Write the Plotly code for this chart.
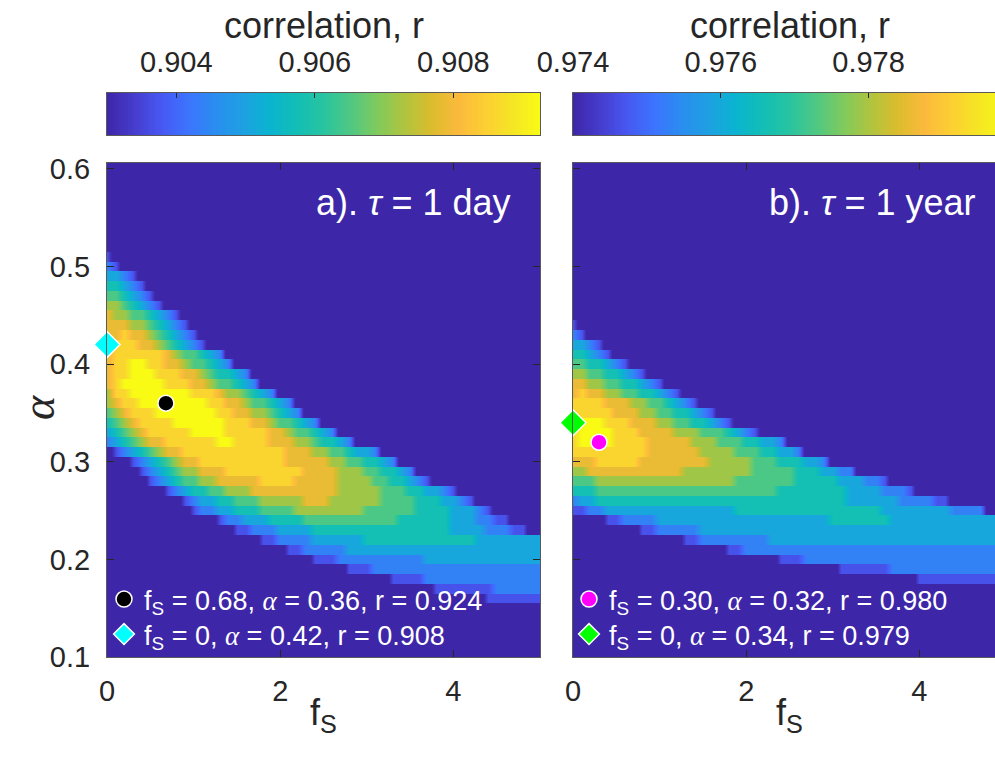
import numpy as np
import plotly.graph_objects as go

# ---------------------------------------------------------------------------
# Grid of the sweep: storage fraction f_S (columns) and exponent alpha (rows)
# ---------------------------------------------------------------------------
FS = np.round(np.arange(0.0, 5.0001, 0.1), 2)
ALPHA = np.round(np.arange(0.10, 0.6001, 0.01), 2)

# Colour limits of the two panels (correlation r)
R_LIM_DAY = (0.903, 0.90925)
R_LIM_YEAR = (0.974, 0.97986)
CBAR_TICKS_DAY = [0.904, 0.906, 0.908]
CBAR_TICKS_YEAR = [0.974, 0.976, 0.978]

# Correlation per alpha row, as levels 1..9 between the colour limits
# (level 9 = top of the scale or above).  Each entry: alpha, first f_S column,
# levels for consecutive columns.  Cells not listed are below the scale.
ROWS_DAY = [
    (0.51, 0, "1"),
    (0.50, 0, "21"),
    (0.49, 0, "3321"),
    (0.48, 0, "44321"),
    (0.47, 0, "554321"),
    (0.46, 0, "6654321"),
    (0.45, 0, "766554321"),
    (0.44, 0, "7776654321"),
    (0.43, 0, "77877654321"),
    (0.42, 0, "788877654321"),
    (0.41, 0, "78888887655432"),
    (0.40, 0, "788998877655432"),
    (0.39, 0, "78899988877654432"),
    (0.38, 0, "789999988877655432"),
    (0.37, 0, "68899999998887665432"),
    (0.36, 0, "6788999999998877655432"),
    (0.35, 0, "56788899999998877665432"),
    (0.34, 0, "4567888899999988877655432"),
    (0.33, 0, "345678888899998888877655432"),
    (0.32, 0, "23456778888889988887776654432"),
    (0.31, 1, "1234567788888888888877766554332"),
    (0.30, 3, "1234567788888888887777766554432"),
    (0.29, 4, "12345667778888888887777666554432"),
    (0.28, 5, "123455667777788887777766665544321"),
    (0.27, 7, "1234455666777777777766666555443321"),
    (0.26, 9, "1233445556666677766666655554443321"),
    (0.25, 10, "12233444555566666666555555444433321"),
    (0.24, 13, "1223334444555555555554444443332211"),
    (0.23, 15, "1122233334444444444444444333322211"),
    (0.22, 18, "112222333333444444444444433333333"),
    (0.21, 21, "112222233333333333333333333333"),
    (0.20, 24, "111222222222233333333333333"),
    (0.19, 28, "11122222222222222222222"),
    (0.18, 33, "111122222222222222"),
    (0.17, 38, "1111111222222"),
    (0.16, 44, "1111111"),
]

ROWS_YEAR = [
    (0.44, 0, "1"),
    (0.43, 0, "21"),
    (0.42, 0, "3321"),
    (0.41, 0, "44321"),
    (0.40, 0, "5544321"),
    (0.39, 0, "665544321"),
    (0.38, 0, "77665544321"),
    (0.37, 0, "7877665544321"),
    (0.36, 0, "888877766554321"),
    (0.35, 0, "88888777665544321"),
    (0.34, 0, "8999888777665544321"),
    (0.33, 0, "8999988877776665554321"),
    (0.32, 0, "8999988887777766655544332"),
    (0.31, 0, "888888888777777666655544332"),
    (0.30, 0, "777888887777777766666555444332"),
    (0.29, 0, "667777777777766666666555554443322"),
    (0.28, 0, "5556666666666666666555555544444333221"),
    (0.27, 0, "4445555555555555555555554444444433332221"),
    (0.26, 0, "23344444444444444444444444444444333333222211"),
    (0.25, 0, "112233333333333333344444444444444444333333332222"),
    (0.24, 4, "11222233333333333333333333444444433333333333333"),
    (0.23, 8, "1122222333333333333333333333333333333333333"),
    (0.22, 13, "11222222223333333333333333333333333333"),
    (0.21, 18, "112222222222222222222222222222222"),
    (0.20, 24, "111222222222222222222222222"),
    (0.19, 31, "11111122222222222222"),
    (0.18, 40, "11111111111"),
]

# Marked optima: overall best and best with f_S = 0
BEST_DAY = dict(fs=0.68, alpha=0.36, r=0.924)
FS0_DAY = dict(fs=0.0, alpha=0.42, r=0.908)
BEST_YEAR = dict(fs=0.30, alpha=0.32, r=0.980)
FS0_YEAR = dict(fs=0.0, alpha=0.34, r=0.979)

# MATLAB-style parula colour map
PARULA = [
    [0.000, "rgb(62,38,168)"],
    [0.063, "rgb(70,60,205)"],
    [0.125, "rgb(71,88,242)"],
    [0.188, "rgb(60,116,254)"],
    [0.250, "rgb(42,141,240)"],
    [0.313, "rgb(30,160,226)"],
    [0.375, "rgb(10,180,208)"],
    [0.438, "rgb(18,190,182)"],
    [0.500, "rgb(40,196,160)"],
    [0.563, "rgb(80,200,130)"],
    [0.625, "rgb(128,202,92)"],
    [0.688, "rgb(176,196,62)"],
    [0.750, "rgb(220,188,45)"],
    [0.813, "rgb(252,186,60)"],
    [0.875, "rgb(252,207,50)"],
    [0.938, "rgb(245,230,36)"],
    [1.000, "rgb(249,251,21)"],
]

W, H = 995, 778
FONT = "Arial, Liberation Sans, sans-serif"
SERIF = "Liberation Serif, DejaVu Serif, serif"
INK = "#262626"
FRAME = "#5a5a5a"


def build_field(rows, lim):
    """Correlation on the (alpha, f_S) grid; each alpha row is given twice,
    at the lower and upper edge of its band, so that smoothing acts along
    f_S only."""
    lo, hi = lim
    step = (hi - lo) / 9.0
    z = np.full((len(ALPHA), len(FS)), lo - step)
    for a, c0, levels in rows:
        i = int(np.argmin(np.abs(ALPHA - a)))
        for k, ch in enumerate(levels):
            z[i, c0 + k] = lo + int(ch) * step
    y_edges = np.column_stack([ALPHA - 0.00495, ALPHA + 0.00495]).ravel()
    return y_edges, np.repeat(z, 2, axis=0)


y_day, z_day = build_field(ROWS_DAY, R_LIM_DAY)
y_year, z_year = build_field(ROWS_YEAR, R_LIM_YEAR)


def px_x(p):
    return p / W


def px_y(p):
    return 1 - p / H


dom_y = [px_y(657), px_y(163)]
dom_xa = [px_x(107), px_x(540)]
dom_xb = [px_x(573), 1.0]
x_per_px = 5.0 / (540 - 107)
xb_max = (W - 573) * x_per_px
dom_cbar = [px_y(135), px_y(93)]

fig = go.Figure()
fig.add_trace(go.Heatmap(x=FS, y=y_day, z=z_day, coloraxis="coloraxis",
                         zsmooth="best", xaxis="x", yaxis="y", hoverinfo="skip"))
fig.add_trace(go.Heatmap(x=FS, y=y_year, z=z_year, coloraxis="coloraxis2",
                         zsmooth="best", xaxis="x2", yaxis="y2", hoverinfo="skip"))

# colour bars drawn as strips on their own axes
for lim, ca, xa, ya in ((R_LIM_DAY, "coloraxis", "x3", "y3"),
                        (R_LIM_YEAR, "coloraxis2", "x4", "y4")):
    ramp = np.linspace(lim[0], lim[1], 256)
    fig.add_trace(go.Heatmap(x=ramp, y=[0], z=[ramp], coloraxis=ca,
                             xaxis=xa, yaxis=ya, hoverinfo="skip"))


def label(p):
    fs = ("%.2f" % p["fs"]) if p["fs"] else "0"
    return ("f<sub>S</sub> = %s, <span style='font-family:%s'><i>α</i></span>"
            " = %.2f, r = %.3f" % (fs, SERIF, p["alpha"], p["r"]))


def marker_trace(p, symbol, size, color, xa, ya, leg):
    return go.Scatter(x=[p["fs"]], y=[p["alpha"]], mode="markers",
                      marker=dict(symbol=symbol, size=size, color=color,
                                  line=dict(color="white", width=1.5)),
                      name=label(p), xaxis=xa, yaxis=ya, legend=leg,
                      cliponaxis=False, hoverinfo="skip")


fig.add_trace(marker_trace(BEST_DAY, "circle", 16, "black", "x", "y", "legend"))
fig.add_trace(marker_trace(FS0_DAY, "diamond", 20, "cyan", "x", "y", "legend2"))
fig.add_trace(marker_trace(BEST_YEAR, "circle", 16, "magenta", "x2", "y2", "legend3"))
fig.add_trace(marker_trace(FS0_YEAR, "diamond", 20, "lime", "x2", "y2", "legend4"))

axis_common = dict(ticks="inside", ticklen=7, tickwidth=1, tickcolor=INK,
                   showline=True, linecolor=FRAME, linewidth=1,
                   showgrid=False, zeroline=False,
                   tickfont=dict(family=FONT, size=29, color=INK))

strip_x = dict(side="top", ticks="inside", ticklen=5, tickwidth=1, tickcolor=INK,
               showline=True, linecolor=FRAME, linewidth=1, mirror=True,
               showgrid=False, zeroline=False, ticklabelstandoff=8,
               tickfont=dict(family=FONT, size=29, color=INK))
strip_y = dict(domain=dom_cbar, range=[-0.5, 0.5], showticklabels=False,
               ticks="", showgrid=False, zeroline=False,
               showline=True, linecolor=FRAME, linewidth=1)


def legend_box(xp, yp):
    return dict(x=px_x(xp), y=px_y(yp), xanchor="left", yanchor="top",
                bgcolor="rgba(0,0,0,0)", borderwidth=0,
                font=dict(family=FONT, size=27, color="white"))


fig.update_layout(
    width=W, height=H, margin=dict(l=0, r=0, t=0, b=0, autoexpand=False),
    paper_bgcolor="white", plot_bgcolor="rgb(62,38,168)",
    font=dict(family=FONT, color=INK),
    hovermode=False,
    xaxis=dict(domain=dom_xa, range=[0, 5], tickvals=[0, 2, 4], mirror="ticks",
               anchor="y", ticklabelstandoff=8, **axis_common),
    yaxis=dict(domain=dom_y, range=[0.1, 0.606],
               tickvals=[0.1, 0.2, 0.3, 0.4, 0.5, 0.6],
               ticktext=["0.1", "0.2", "0.3", "0.4", "0.5", "0.6"],
               mirror="ticks", anchor="x", ticklabelstandoff=10, **axis_common),
    xaxis2=dict(domain=dom_xb, range=[0, xb_max], tickvals=[0, 2, 4],
                mirror="ticks", anchor="y2", ticklabelstandoff=8, **axis_common),
    yaxis2=dict(domain=dom_y, range=[0.1, 0.606],
                tickvals=[0.1, 0.2, 0.3, 0.4, 0.5, 0.6], showticklabels=False,
                anchor="x2", **axis_common),
    xaxis3=dict(domain=dom_xa, range=list(R_LIM_DAY), anchor="y3",
                tickvals=CBAR_TICKS_DAY,
                ticktext=["%.3f" % t for t in CBAR_TICKS_DAY], **strip_x),
    yaxis3=dict(anchor="x3", mirror=True, **strip_y),
    xaxis4=dict(domain=dom_xb, anchor="y4",
                range=[R_LIM_YEAR[0],
                       R_LIM_YEAR[0] + (W - 573) / 433 * (R_LIM_YEAR[1] - R_LIM_YEAR[0])],
                tickvals=CBAR_TICKS_YEAR,
                ticktext=["%.3f" % t for t in CBAR_TICKS_YEAR], **strip_x),
    yaxis4=dict(anchor="x4", mirror=False, **strip_y),
    coloraxis=dict(colorscale=PARULA, cmin=R_LIM_DAY[0], cmax=R_LIM_DAY[1],
                   showscale=False),
    coloraxis2=dict(colorscale=PARULA, cmin=R_LIM_YEAR[0], cmax=R_LIM_YEAR[1],
                    showscale=False),
    legend=legend_box(104, 575),
    legend2=legend_box(104, 610),
    legend3=legend_box(569, 575),
    legend4=legend_box(569, 610),
    showlegend=True,
)

# colour bar titles
for xc in (323.5, 573 + 216.5):
    fig.add_annotation(text="correlation, r", xref="paper", yref="paper",
                       x=px_x(xc), y=px_y(26), xanchor="center", yanchor="middle",
                       showarrow=False, font=dict(family=FONT, size=36, color=INK))

# panel captions
for text, xr in (("a). <i>τ</i> = 1 day", 513), ("b). <i>τ</i> = 1 year", 978)):
    fig.add_annotation(text=text, xref="paper", yref="paper",
                       x=px_x(xr), y=px_y(203), xanchor="right", yanchor="middle",
                       showarrow=False, font=dict(family=FONT, size=36, color="white"))

# axis titles
for xc in (323.5, 573 + 216.5):
    fig.add_annotation(text="f<sub>S</sub>", xref="paper", yref="paper",
                       x=px_x(xc), y=px_y(715), xanchor="center", yanchor="middle",
                       showarrow=False, font=dict(family=FONT, size=36, color=INK))
fig.add_annotation(text="<i>α</i>", xref="paper", yref="paper",
                   x=px_x(38), y=px_y(408), xanchor="center", yanchor="middle",
                   textangle=-90, showarrow=False,
                   font=dict(family=SERIF, size=46, color=INK))

fig.write_html("out.html")
